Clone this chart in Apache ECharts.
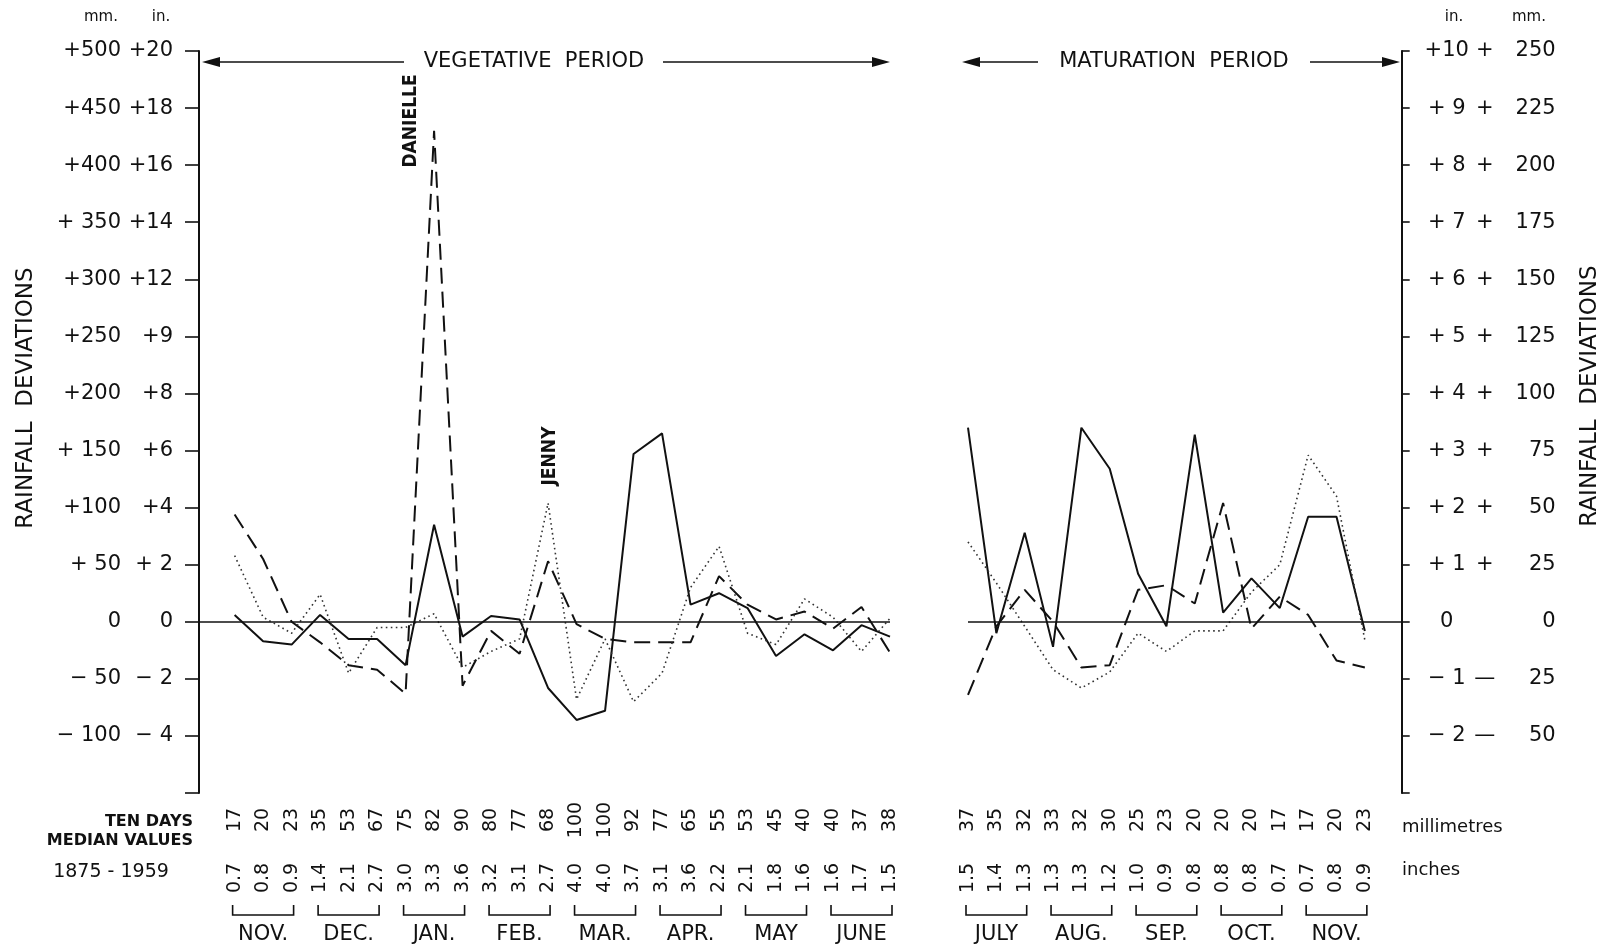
<!DOCTYPE html>
<html>
<head>
<meta charset="utf-8">
<title>Rainfall deviations, ten-day periods</title>
<script src="https://cdn.jsdelivr.net/npm/echarts@6/dist/echarts.min.js"></script>
<style>
  html, body { margin: 0; padding: 0; background: #fff; }
  #chart { width: 1611px; height: 950px; }
</style>
</head>
<body>
<div id="chart"></div>
<script>
// Ten-day (dekad) median rainfall, 1875-1959
const vegMedianMm = ['17','20','23','35','53','67','75','82','90','80','77','68','100','100','92','77','65','55','53','45','40','40','37','38'];
const vegMedianIn = ['0.7','0.8','0.9','1.4','2.1','2.7','3.0','3.3','3.6','3.2','3.1','2.7','4.0','4.0','3.7','3.1','3.6','2.2','2.1','1.8','1.6','1.6','1.7','1.5'];
const vegMonths = ['NOV.','DEC.','JAN.','FEB.','MAR.','APR.','MAY','JUNE'];
const matMedianMm = ['37','35','32','33','32','30','25','23','20','20','20','17','17','20','23'];
const matMedianIn = ['1.5','1.4','1.3','1.3','1.3','1.2','1.0','0.9','0.8','0.8','0.8','0.7','0.7','0.8','0.9'];
const matMonths = ['JULY','AUG.','SEP.','OCT.','NOV.'];

// Rainfall deviations from the median, mm, one value per dekad
const vegSolid  = [6,-17,-20,6,-15,-15,-38,85,-13,5,2,-58,-86,-78,147,165,15,25,12,-30,-11,-25,-3,-13];
const vegDashed = [94,55,0,-18,-38,-42,-63,430,-56,-8,-28,53,-2,-15,-18,-18,-18,40,15,2,9,-6,13,-27];
const vegDotted = [58,4,-10,24,-45,-5,-5,7,-40,-26,-15,104,-68,-15,-70,-45,30,66,-10,-20,20,4,-26,3];
const matSolid  = [85,-5,39,-11,85,67,21,-2,82,4,19,6,46,46,-4];
const matDashed = [-32,-2,14,0,-20,-19,14,16,8,52,-3,11,3,-17,-20];
const matDotted = [35,17,-2,-21,-29,-22,-5,-13,-4,-4,13,25,73,55,-8];

// Axis tick labels (mm and inches)
const vegTickValues = [-100,-50,0,50,100,150,200,250,300,350,400,450,500];
const vegTickMm = ['\u2212 100','\u2212 50','0','+ 50','+100','+ 150','+200','+250','+300','+ 350','+400','+450','+500'];
const vegTickIn = ['\u2212 4','\u2212 2','0','+ 2','+4','+6','+8','+9','+12','+14','+16','+18','+20'];
const matTickValues = [-50,-25,0,25,50,75,100,125,150,175,200,225,250];
const matTickIn = ['\u2212 2','\u2212 1','0','+ 1','+ 2','+ 3','+ 4','+ 5','+ 6','+ 7','+ 8','+ 9','+10'];
const matTickSep = ['\u2014','\u2014','','+','+','+','+','+','+','+','+','+','+'];
const matTickMm = ['50','25','0','25','50','75','100','125','150','175','200','225','250'];

const FONT = 'DejaVu Sans';
const INK = '#111';

function pairs(arr) { return arr.map((v, i) => [i, v]); }

function atIndex(arr) {
  return function (v) {
    const i = Math.round(v);
    if (Math.abs(v - i) > 1e-6 || i < 0 || i >= arr.length) return '';
    return arr[i];
  };
}
function monthAt(months) {
  return function (v) {
    const i = Math.round(v);
    if (Math.abs(v - i) > 1e-6 || i < 0 || (i - 1) % 3 !== 0) return '';
    return months[(i - 1) / 3] || '';
  };
}

// one grid carries three label rows along the bottom: mm, inches, month names
function bottomAxes(gridIndex, min, max, interval, mm, inch, months) {
  const base = {
    type: 'value', gridIndex, min, max, interval, position: 'bottom',
    axisLine: { show: false, onZero: false }, axisTick: { show: false }, splitLine: { show: false }
  };
  return [
    Object.assign({}, base, { axisLabel: { formatter: atIndex(mm), rotate: 90, align: 'center', verticalAlign: 'middle', margin: 27, fontSize: 19, color: INK, fontFamily: FONT } }),
    Object.assign({}, base, { axisLabel: { formatter: atIndex(inch), rotate: 90, align: 'center', verticalAlign: 'middle', margin: 85, fontSize: 19, color: INK, fontFamily: FONT } }),
    Object.assign({}, base, { axisLabel: { formatter: monthAt(months), align: 'center', verticalAlign: 'middle', margin: 142, fontSize: 21, color: INK, fontFamily: FONT } })
  ];
}

// month brackets under the inch row
function bracketSeries(xAxisIndex, yAxisIndex, nMonths) {
  const starts = [];
  for (let m = 0; m < nMonths; m++) starts.push([m * 3, 0]);
  return {
    type: 'custom', xAxisIndex, yAxisIndex, silent: true, clip: false,
    encode: { x: 0, y: 1 },
    data: starts,
    renderItem: function (params, api) {
      const s = api.value(0);
      const p0 = api.coord([s, 0]);
      const p1 = api.coord([s + 2, 0]);
      const cs = params.coordSys;
      const yb = cs.y + cs.height + 122;
      return {
        type: 'polyline',
        shape: { points: [[p0[0] - 2, yb - 10], [p0[0] - 2, yb], [p1[0] + 2, yb], [p1[0] + 2, yb - 10]] },
        style: { stroke: INK, lineWidth: 1.6, fill: null }
      };
    }
  };
}

function lineSeries(name, data, xi, yi, style, withZero) {
  const s = {
    name, type: 'line', xAxisIndex: xi, yAxisIndex: yi,
    data: pairs(data), symbol: 'none', silent: true,
    lineStyle: style
  };
  if (withZero) {
    s.markLine = {
      silent: true, symbol: 'none', label: { show: false },
      lineStyle: { color: INK, type: 'solid', width: 1.6 },
      data: [{ yAxis: 0 }]
    };
  }
  return s;
}

const solidStyle = { color: INK, width: 2, type: 'solid' };
const dashedStyle = { color: INK, width: 2, type: [16, 8] };
const dottedStyle = { color: '#333', width: 1.6, type: [1.6, 3.4] };

function txt(text, x, y, size, opts) {
  opts = opts || {};
  return {
    type: 'text', x, y, rotation: opts.rotation || 0, silent: true,
    style: {
      text, x: 0, y: 0, fill: INK,
      fontSize: size, fontFamily: opts.family || FONT, fontWeight: opts.weight || 'normal',
      align: opts.align || 'center', verticalAlign: 'middle',
      textAlign: opts.align || 'center', textVerticalAlign: 'middle'
    }
  };
}
function hline(x1, x2, y) {
  return { type: 'line', silent: true, shape: { x1, y1: y, x2, y2: y }, style: { stroke: INK, lineWidth: 1.6 } };
}
function arrowHead(tipX, y, dir) {
  const back = tipX - dir * 18;
  return { type: 'polygon', silent: true, shape: { points: [[tipX, y], [back, y - 5], [back, y + 5]] }, style: { fill: INK } };
}

const chart = echarts.init(document.getElementById('chart'), null, { renderer: 'canvas' });

const option = {
  animation: false,
  backgroundColor: '#fff',
  textStyle: { fontFamily: FONT, color: INK },
  grid: [
    { left: 199, top: 51, width: 691, height: 742, containLabel: false, outerBoundsMode: 'none' },
    { left: 968, top: 51, width: 433.7, height: 742, containLabel: false, outerBoundsMode: 'none' }
  ],
  xAxis: [].concat(
    bottomAxes(0, -1.25, 23, 0.25, vegMedianMm, vegMedianIn, vegMonths),
    bottomAxes(1, 0, 15.3, 1, matMedianMm, matMedianIn, matMonths)
  ),
  yAxis: [
    {
      type: 'value', gridIndex: 0, position: 'left', min: -150, max: 500, interval: 50,
      splitLine: { show: false },
      axisLine: { show: true, onZero: false, lineStyle: { color: INK, width: 2 } },
      axisTick: { show: true, inside: false, length: 14, lineStyle: { color: INK, width: 1.6 } },
      axisLabel: {
        margin: 26, color: INK,
        formatter: function (v) {
          const i = vegTickValues.indexOf(v);
          if (i < 0) return '';
          return '{a|' + vegTickMm[i] + '}{b|' + vegTickIn[i] + '}';
        },
        rich: {
          a: { width: 70, align: 'right', fontSize: 21, fontFamily: FONT, color: INK },
          b: { width: 52, align: 'right', fontSize: 21, fontFamily: FONT, color: INK }
        }
      }
    },
    {
      type: 'value', gridIndex: 1, position: 'right', min: -75, max: 250, interval: 25,
      splitLine: { show: false },
      axisLine: { show: true, onZero: false, lineStyle: { color: INK, width: 2 } },
      axisTick: { show: true, inside: false, length: 8, lineStyle: { color: INK, width: 1.6 } },
      axisLabel: {
        margin: 21, color: INK,
        formatter: function (v) {
          const i = matTickValues.indexOf(v);
          if (i < 0) return '';
          return '{a|' + matTickIn[i] + '}{s|' + (matTickSep[i] || ' ') + '}{b|' + matTickMm[i] + '}';
        },
        rich: {
          a: { width: 48, align: 'right', fontSize: 21, fontFamily: FONT, color: INK },
          s: { width: 28, align: 'center', fontSize: 21, fontFamily: FONT, color: INK },
          b: { width: 57, align: 'right', fontSize: 21, fontFamily: FONT, color: INK }
        }
      }
    }
  ],
  series: [
    lineSeries('vegetative solid', vegSolid, 0, 0, solidStyle, true),
    lineSeries('vegetative dashed', vegDashed, 0, 0, dashedStyle, false),
    lineSeries('vegetative dotted', vegDotted, 0, 0, dottedStyle, false),
    lineSeries('maturation solid', matSolid, 3, 1, solidStyle, true),
    lineSeries('maturation dashed', matDashed, 3, 1, dashedStyle, false),
    lineSeries('maturation dotted', matDotted, 3, 1, dottedStyle, false),
    bracketSeries(0, 0, vegMonths.length),
    bracketSeries(3, 1, matMonths.length)
  ],
  graphic: { elements: [
    // unit headings
    txt('mm.', 101, 17, 15), txt('in.', 161, 17, 15),
    txt('in.', 1454, 17, 15), txt('mm.', 1529, 17, 15),
    // axis titles
    txt('RAINFALL  DEVIATIONS', 26, 398, 23, { rotation: Math.PI / 2 }),
    txt('RAINFALL  DEVIATIONS', 1590, 396, 23, { rotation: Math.PI / 2 }),
    // period arrows
    arrowHead(202, 62, -1), hline(218, 404, 62),
    txt('VEGETATIVE  PERIOD', 534, 62, 21),
    hline(663, 874, 62), arrowHead(890, 62, 1),
    arrowHead(962, 62, -1), hline(978, 1038, 62),
    txt('MATURATION  PERIOD', 1174, 62, 21),
    hline(1310, 1385, 62), arrowHead(1400, 62, 1),
    // storm names
    txt('DANIELLE', 411, 121, 19, { rotation: Math.PI / 2, weight: 'bold', family: 'DejaVu Sans Condensed' }),
    txt('JENNY', 550, 456, 19, { rotation: Math.PI / 2, weight: 'bold', family: 'DejaVu Sans Condensed' }),
    // row captions
    txt('TEN DAYS', 193, 822, 16, { align: 'right', weight: 'bold' }),
    txt('MEDIAN VALUES', 193, 841, 16, { align: 'right', weight: 'bold' }),
    txt('1875 - 1959', 111, 872, 19),
    txt('millimetres', 1402, 827, 18, { align: 'left' }),
    txt('inches', 1402, 870, 18, { align: 'left' })
  ] }
};

chart.setOption(option);
</script>
</body>
</html>
